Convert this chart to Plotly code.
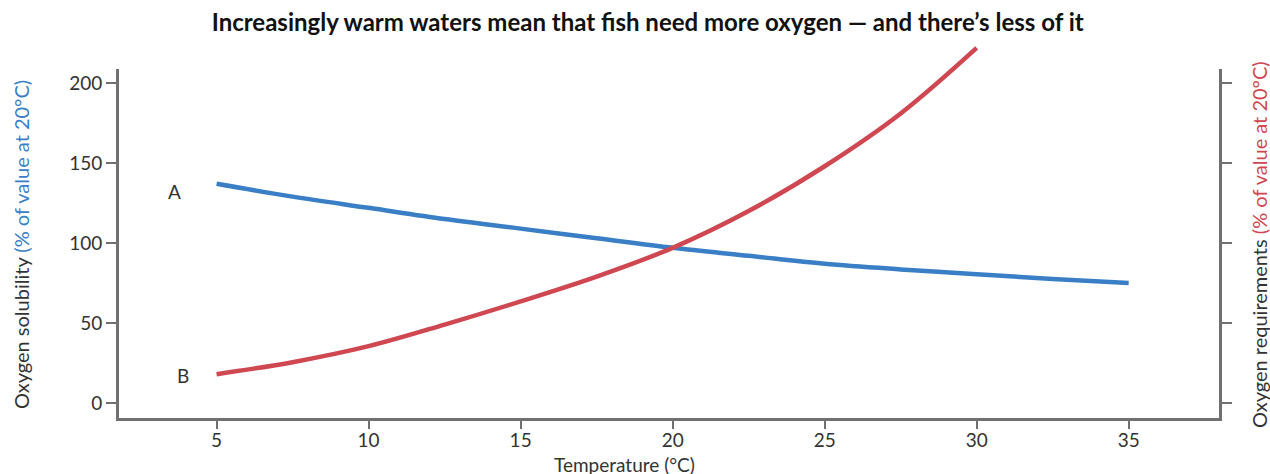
import plotly.graph_objects as go

# Data
temp_solubility = [5, 7.5, 10, 12.5, 15, 17.5, 20, 22.5, 25, 27.5, 30, 32.5, 35]
solubility = [137, 129, 122, 115, 109, 103, 97, 92, 87, 83.5, 80.5, 77.5, 75]

temp_requirement = [5, 7.5, 10, 12.5, 15, 17.5, 20, 22.5, 25, 27.5, 30]
requirement = [18, 25.5, 35.5, 49, 63.5, 79, 97, 120, 148, 181, 222]

x_ticks = [5, 10, 15, 20, 25, 30, 35]
y_ticks = [0, 50, 100, 150, 200]

BLUE = "#3a7fc6"
RED = "#cf4750"
AXIS = "#707070"
TEXT = "#333333"
FONT = "Lato"

W, H = 1270, 474
ML, MR, MT, MB = 119, 51, 40, 56
PW, PH = W - ML - MR, H - MT - MB
AXIS_TOP_PX = 69  # where the drawn axes end (the red curve runs above it)
dom_top = (H - MB - AXIS_TOP_PX) / PH

y_lo, y_hi = -9.4, 208.8
px_per_unit = (H - MB - AXIS_TOP_PX) / (y_hi - y_lo)
y2_hi = y_lo + PH / px_per_unit


def px(xp, yp):
    return (xp - ML) / PW, (H - MB - yp) / PH


fig = go.Figure()
fig.add_trace(go.Scatter(
    x=temp_solubility, y=solubility, mode="lines",
    line=dict(color=BLUE, width=4.5, shape="spline"),
    showlegend=False, hoverinfo="x+y"))
fig.add_trace(go.Scatter(
    x=temp_requirement, y=requirement, mode="lines", yaxis="y2",
    line=dict(color=RED, width=4.5, shape="spline"),
    showlegend=False, hoverinfo="x+y"))
# a dummy trace keeps the right-hand axis drawn
fig.add_trace(go.Scatter(x=[None], y=[None], yaxis="y3", showlegend=False, hoverinfo="skip"))

tx, ty = px(624, 464)
lx, ly = px(21, 245)
rx, ry = px(1259, 245)

fig.update_layout(
    width=W, height=H,
    margin=dict(l=ML, r=MR, t=MT, b=MB),
    paper_bgcolor="white", plot_bgcolor="rgba(0,0,0,0)",
    font=dict(family=FONT, color=TEXT, size=19),
    title=dict(text="<b>Increasingly warm waters mean that fish need more oxygen — and there’s less of it</b>",
               x=0.51, xanchor="center", y=1 - 23 / H, yanchor="middle", yref="container",
               font=dict(family=FONT, size=24, color="#111111")),
    xaxis=dict(range=[1.79, 37.97], tickvals=x_ticks, showgrid=False, zeroline=False,
               anchor="y", ticklabelstandoff=-5,
               showline=True, linecolor=AXIS, linewidth=3, ticks="outside", ticklen=8,
               tickwidth=2, tickcolor=AXIS, tickfont=dict(size=19, color=TEXT)),
    yaxis=dict(range=[y_lo, y_hi], domain=[0, dom_top], tickvals=y_ticks, showgrid=False,
               zeroline=False, anchor="x",
               showline=True, linecolor=AXIS, linewidth=3, ticks="outside", ticklen=10,
               tickwidth=2, tickcolor=AXIS, tickfont=dict(size=19, color=TEXT)),
    yaxis2=dict(range=[y_lo, y2_hi], domain=[0, 1], anchor="x", visible=False,
                showgrid=False, zeroline=False),
    yaxis3=dict(range=[y_lo, y_hi], tickvals=y_ticks, ticktext=[""] * len(y_ticks),
                overlaying="y", side="right", anchor="x", showgrid=False, zeroline=False,
                showline=True, linecolor=AXIS, linewidth=3, ticks="outside", ticklen=10,
                tickwidth=2, tickcolor=AXIS),
    annotations=[
        dict(text="A", x=3.62, y=132, xref="x", yref="y", showarrow=False,
             font=dict(size=19, color=TEXT)),
        dict(text="B", x=3.91, y=17, xref="x", yref="y", showarrow=False,
             font=dict(size=19, color=TEXT)),
        dict(text="Temperature (°C)", x=tx, y=ty, xref="paper", yref="paper",
             xanchor="center", yanchor="middle", showarrow=False,
             font=dict(size=19, color=TEXT)),
        dict(text=f"Oxygen solubility <span style='color:{BLUE}'>(% of value at 20°C)</span>",
             x=lx, y=ly, xref="paper", yref="paper", textangle=-90,
             xanchor="center", yanchor="middle", showarrow=False,
             font=dict(size=20, color=TEXT)),
        dict(text=f"Oxygen requirements <span style='color:{RED}'>(% of value at 20°C)</span>",
             x=rx, y=ry, xref="paper", yref="paper", textangle=-90,
             xanchor="center", yanchor="middle", showarrow=False,
             font=dict(size=20, color=TEXT)),
    ],
)

fig.write_html("out.html", config={"displayModeBar": False},
               post_script="document.body.style.margin='0';document.body.style.overflow='hidden';")
